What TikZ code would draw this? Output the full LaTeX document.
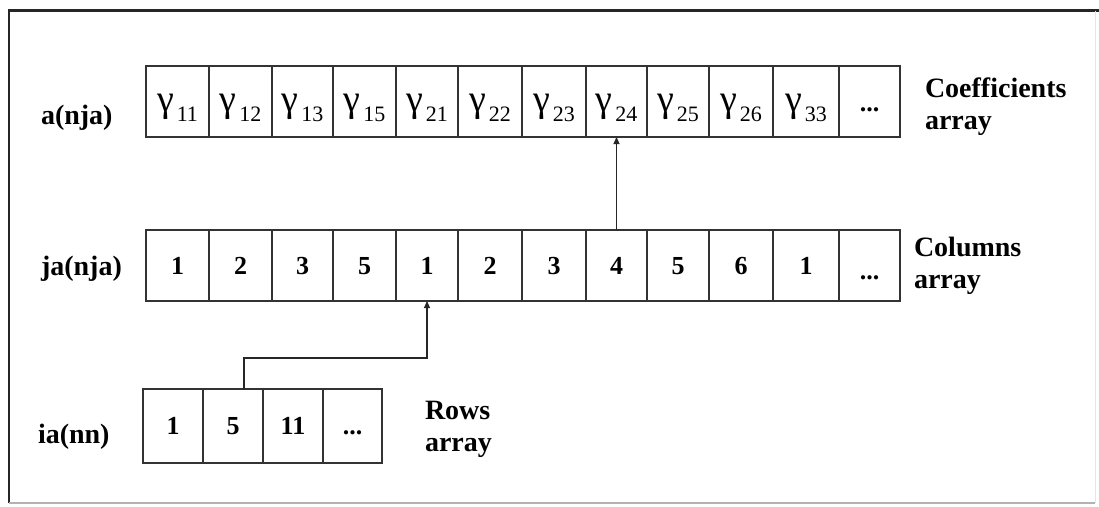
\documentclass[tikz,border=0pt]{standalone}
\usepackage{fontspec}
\setmainfont{Liberation Serif}
\usetikzlibrary{arrows.meta}
\newcommand{\gam}[1]{{\fontsize{38}{38}\selectfont γ}\hspace{3pt}\raisebox{-9.5pt}{\fontsize{22}{22}\selectfont #1}}
\newcommand{\dotsb}{\textbf{...}}
\begin{document}
\begin{tikzpicture}[x=1pt,y=-1pt,
  cellbase/.style={draw=black!80, line width=1.4pt, inner sep=0pt, outer sep=0pt},
  topcell/.style={cellbase, minimum height=71pt, text height=26pt, text depth=6pt},
  midcell/.style={cellbase, minimum height=71pt, text height=17.6pt, text depth=0pt,
                  font=\fontsize{26}{26}\selectfont\bfseries},
  botcell/.style={cellbase, minimum height=74pt, text height=17.6pt, text depth=0pt,
                  font=\fontsize{26}{26}\selectfont\bfseries},
  lbl/.style={inner sep=0pt, outer sep=0pt, font=\fontsize{28}{32}\selectfont\bfseries},
  arr/.style={line width=1.2pt, draw=black!85, -{Triangle[length=7pt,width=6pt]}}
]
\fill[white] (0,0) rectangle (1099,506);
\useasboundingbox (0,0) rectangle (1099,506);
% frame
\draw[line width=2.5pt, black!85] (9,503) -- (9,10.5) -- (1099,10.5);
\draw[line width=2pt, black!30] (9,503) -- (1095,503);
\draw[line width=1pt, black!10] (1095,10.5) -- (1095,503);
% top row
\foreach \i/\l/\r/\t in {1/146/209/{\gam{11}},2/209/272/{\gam{12}},3/272/333/{\gam{13}},
  4/333/396/{\gam{15}},5/396/458/{\gam{21}},6/458/522/{\gam{22}},7/522/586/{\gam{23}},
  8/586/647/{\gam{24}},9/647/709/{\gam{25}},10/709/773/{\gam{26}},11/773/839/{\gam{33}},
  12/839/900/{\fontsize{26}{26}\selectfont\dotsb}}
  \node[topcell, minimum width=\r-\l] (a\i) at ({(\l+\r)/2},101.5) {\t};
% middle row
\foreach \i/\l/\r/\t in {1/146/209/1,2/209/272/2,3/272/333/3,4/333/396/5,5/396/458/1,
  6/458/522/2,7/522/586/3,8/586/647/4,9/647/709/5,10/709/773/6,11/773/839/1,
  12/839/900/{\raisebox{-5pt}{...}}}
  \node[midcell, minimum width=\r-\l] (j\i) at ({(\l+\r)/2},265.5) {\t};
% bottom row
\foreach \i/\l/\r/\t in {1/143/203/1,2/203/263/5,3/263/323/11,4/323/382/{...}}
  \node[botcell, minimum width=\r-\l] (i\i) at ({(\l+\r)/2},426) {\t};
% labels
\node[lbl, anchor=base west] (la) at (41,124) {a(nja)};
\node[lbl, anchor=base west] (lj) at (41,275) {ja(nja)};
\node[lbl, anchor=base west] (li) at (38,443) {ia(nn)};
\node[lbl, anchor=base west] (coef) at (925,97.7) {\begin{tabular}[t]{@{}l@{}}Coefficients\\array\end{tabular}};
\node[lbl, anchor=base west] (cols) at (914,256) {\begin{tabular}[t]{@{}l@{}}Columns\\array\end{tabular}};
\node[lbl, anchor=base west] (rows) at (425,419) {\begin{tabular}[t]{@{}l@{}}Rows\\array\end{tabular}};
% arrows
\draw[arr] (j8.north) -- (a8.south);
\coordinate (turn) at (244,358);
\draw[arr] (turn |- i2.north) -- (turn) -| (j5.south);
\end{tikzpicture}
\end{document}
